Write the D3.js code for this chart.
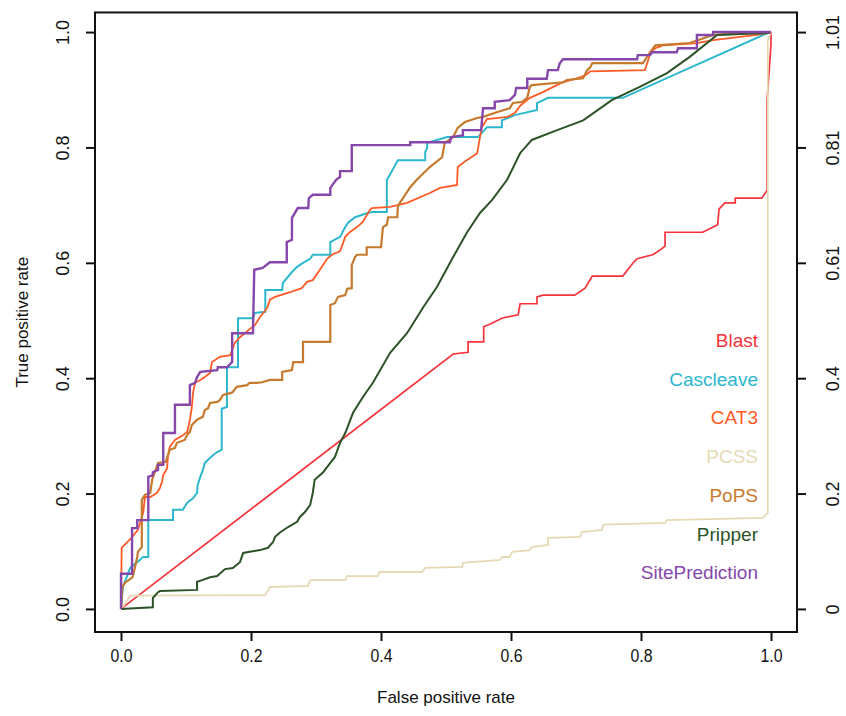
<!DOCTYPE html>
<html><head><meta charset="utf-8">
<script src="https://cdn.jsdelivr.net/npm/d3@7/dist/d3.min.js"></script>
<style>body{margin:0;background:#fff}svg{display:block}text{font-family:"Liberation Sans",Arial,sans-serif}</style>
</head><body><svg id="c" width="846" height="716"></svg>
<script>
const seriesNames = ["Blast","Cascleave","CAT3","PCSS","PoPS","Pripper","SitePrediction"];
const seriesColors = ["#F5333B","#2DB7CC","#FF5A26","#E6DAB4","#C67A2E","#2C5327","#8547AA"];
const xTicks = [0,0.2,0.4,0.6,0.8,1.0];
const xTickLabels = ["0.0","0.2","0.4","0.6","0.8","1.0"];
const yTicks = [0,0.2,0.4,0.6,0.8,1.0];
const yTickLabels = ["0.0","0.2","0.4","0.6","0.8","1.0"];
const rightTickLabels = ["0","0.2","0.4","0.61","0.81","1.01"];

const blast = [[0,0],[0.511,0.442],[0.534,0.445],[0.534,0.463],[0.558,0.463],[0.558,0.489],[0.568,0.494],[0.586,0.504],[0.611,0.510],[0.614,0.529],[0.640,0.529],[0.640,0.541],[0.649,0.544],[0.698,0.544],[0.714,0.556],[0.725,0.577],[0.772,0.577],[0.788,0.600],[0.794,0.607],[0.818,0.614],[0.829,0.622],[0.837,0.629],[0.837,0.653],[0.895,0.653],[0.911,0.662],[0.918,0.666],[0.920,0.693],[0.929,0.704],[0.945,0.704],[0.945,0.712],[0.986,0.712],[0.994,0.726],[0.994,0.882],[0.997,0.93],[1.0,0.98],[1,1]];

const cascleave = [[0,0],[0.003,0.038],[0.011,0.062],[0.014,0.071],[0.029,0.085],[0.034,0.090],[0.042,0.090],[0.042,0.154],[0.080,0.154],[0.080,0.172],[0.095,0.172],[0.102,0.184],[0.111,0.192],[0.117,0.201],[0.118,0.215],[0.122,0.229],[0.126,0.241],[0.129,0.253],[0.137,0.262],[0.142,0.267],[0.148,0.272],[0.155,0.276],[0.155,0.347],[0.163,0.350],[0.163,0.419],[0.180,0.419],[0.180,0.504],[0.203,0.504],[0.206,0.513],[0.222,0.515],[0.222,0.553],[0.248,0.553],[0.249,0.565],[0.263,0.584],[0.271,0.593],[0.280,0.600],[0.291,0.607],[0.295,0.614],[0.322,0.614],[0.322,0.636],[0.337,0.645],[0.345,0.662],[0.349,0.669],[0.360,0.679],[0.378,0.686],[0.386,0.688],[0.409,0.688],[0.409,0.743],[0.426,0.778],[0.468,0.778],[0.468,0.792],[0.471,0.799],[0.471,0.808],[0.502,0.818],[0.549,0.818],[0.563,0.835],[0.586,0.835],[0.586,0.847],[0.606,0.856],[0.640,0.865],[0.640,0.877],[0.657,0.886],[0.772,0.886],[0.998,1.0],[1,1]];

const cat3 = [[0,0],[0.001,0.106],[0.016,0.123],[0.026,0.137],[0.034,0.166],[0.037,0.194],[0.045,0.194],[0.055,0.201],[0.060,0.210],[0.063,0.220],[0.065,0.232],[0.071,0.244],[0.072,0.262],[0.075,0.281],[0.083,0.293],[0.094,0.300],[0.102,0.307],[0.106,0.328],[0.109,0.350],[0.111,0.376],[0.114,0.392],[0.122,0.397],[0.129,0.402],[0.137,0.409],[0.140,0.428],[0.152,0.437],[0.168,0.440],[0.175,0.461],[0.183,0.471],[0.198,0.485],[0.206,0.492],[0.214,0.506],[0.225,0.522],[0.229,0.536],[0.237,0.541],[0.260,0.549],[0.278,0.556],[0.286,0.567],[0.295,0.570],[0.306,0.588],[0.317,0.607],[0.326,0.615],[0.337,0.620],[0.345,0.645],[0.352,0.653],[0.363,0.662],[0.372,0.671],[0.383,0.692],[0.386,0.695],[0.414,0.697],[0.440,0.704],[0.475,0.721],[0.491,0.730],[0.517,0.735],[0.518,0.766],[0.532,0.778],[0.548,0.790],[0.552,0.816],[0.555,0.835],[0.563,0.849],[0.595,0.853],[0.606,0.860],[0.614,0.872],[0.629,0.886],[0.649,0.896],[0.665,0.905],[0.680,0.913],[0.702,0.920],[0.714,0.925],[0.722,0.932],[0.806,0.934],[0.811,0.951],[0.814,0.965],[0.822,0.972],[0.834,0.977],[0.886,0.981],[0.911,0.986],[0.978,0.995],[0.998,1.0],[1,1]];

const pcss = [[0,0],[0.005,0.007],[0.014,0.023],[0.222,0.024],[0.229,0.038],[0.288,0.040],[0.291,0.050],[0.345,0.050],[0.348,0.057],[0.395,0.057],[0.398,0.064],[0.463,0.064],[0.468,0.071],[0.525,0.073],[0.526,0.080],[0.583,0.085],[0.586,0.090],[0.598,0.090],[0.602,0.099],[0.629,0.102],[0.632,0.107],[0.657,0.111],[0.657,0.123],[0.706,0.125],[0.709,0.133],[0.740,0.137],[0.742,0.146],[0.837,0.149],[0.840,0.154],[0.988,0.158],[0.991,0.163],[0.995,0.166],[0.995,0.986],[1.0,1.0]];

const pops = [[0,0],[0.002,0.038],[0.006,0.045],[0.018,0.055],[0.025,0.090],[0.026,0.099],[0.032,0.107],[0.032,0.189],[0.037,0.198],[0.045,0.201],[0.048,0.224],[0.052,0.237],[0.057,0.253],[0.069,0.255],[0.071,0.263],[0.075,0.276],[0.083,0.279],[0.086,0.288],[0.098,0.293],[0.102,0.302],[0.106,0.307],[0.109,0.319],[0.117,0.328],[0.126,0.333],[0.129,0.345],[0.134,0.348],[0.137,0.357],[0.148,0.359],[0.152,0.362],[0.157,0.371],[0.168,0.374],[0.172,0.376],[0.178,0.385],[0.194,0.388],[0.198,0.392],[0.209,0.392],[0.217,0.393],[0.229,0.397],[0.248,0.397],[0.248,0.411],[0.263,0.414],[0.265,0.428],[0.280,0.428],[0.280,0.463],[0.322,0.463],[0.322,0.527],[0.329,0.530],[0.334,0.541],[0.345,0.544],[0.348,0.555],[0.355,0.556],[0.355,0.596],[0.360,0.610],[0.363,0.614],[0.378,0.614],[0.378,0.627],[0.400,0.627],[0.403,0.662],[0.409,0.666],[0.411,0.679],[0.425,0.679],[0.426,0.697],[0.429,0.704],[0.445,0.731],[0.455,0.744],[0.475,0.766],[0.494,0.783],[0.498,0.808],[0.511,0.818],[0.518,0.834],[0.529,0.844],[0.548,0.851],[0.557,0.853],[0.578,0.861],[0.598,0.868],[0.603,0.877],[0.617,0.879],[0.625,0.886],[0.629,0.905],[0.632,0.908],[0.680,0.913],[0.686,0.917],[0.711,0.920],[0.717,0.934],[0.722,0.939],[0.725,0.946],[0.803,0.946],[0.814,0.965],[0.822,0.977],[0.875,0.981],[0.911,0.995],[0.998,1.0],[1,1]];

const pripper = [[0,0],[0.049,0.003],[0.049,0.019],[0.057,0.029],[0.060,0.031],[0.117,0.033],[0.117,0.047],[0.125,0.050],[0.137,0.055],[0.148,0.057],[0.160,0.069],[0.172,0.071],[0.183,0.081],[0.188,0.097],[0.198,0.099],[0.214,0.102],[0.226,0.106],[0.234,0.116],[0.237,0.125],[0.245,0.133],[0.257,0.142],[0.271,0.151],[0.275,0.159],[0.283,0.168],[0.291,0.180],[0.295,0.201],[0.298,0.224],[0.311,0.237],[0.322,0.253],[0.329,0.263],[0.337,0.288],[0.345,0.305],[0.357,0.340],[0.372,0.367],[0.388,0.393],[0.414,0.444],[0.440,0.478],[0.465,0.523],[0.486,0.558],[0.511,0.610],[0.532,0.652],[0.552,0.686],[0.571,0.709],[0.594,0.744],[0.614,0.790],[0.632,0.813],[0.671,0.830],[0.711,0.847],[0.755,0.882],[0.798,0.905],[0.840,0.929],[0.875,0.957],[0.917,0.995],[0.963,0.997],[0.994,0.998],[1.0,1.0]];

const sitePrediction = [[0,0],[0,0.061],[0.017,0.061],[0.017,0.140],[0.025,0.140],[0.025,0.154],[0.042,0.154],[0.042,0.229],[0.049,0.232],[0.049,0.237],[0.057,0.241],[0.057,0.250],[0.065,0.250],[0.065,0.305],[0.083,0.305],[0.083,0.354],[0.106,0.354],[0.106,0.388],[0.114,0.392],[0.117,0.402],[0.122,0.411],[0.148,0.414],[0.149,0.419],[0.163,0.419],[0.171,0.428],[0.171,0.478],[0.203,0.478],[0.205,0.588],[0.218,0.591],[0.229,0.601],[0.255,0.601],[0.255,0.636],[0.263,0.640],[0.263,0.678],[0.272,0.695],[0.288,0.695],[0.289,0.712],[0.295,0.718],[0.322,0.718],[0.322,0.730],[0.331,0.744],[0.337,0.749],[0.337,0.759],[0.355,0.759],[0.355,0.804],[0.445,0.804],[0.445,0.809],[0.506,0.809],[0.508,0.818],[0.526,0.821],[0.526,0.830],[0.554,0.830],[0.557,0.868],[0.575,0.868],[0.575,0.879],[0.598,0.882],[0.606,0.891],[0.608,0.903],[0.625,0.903],[0.625,0.919],[0.655,0.919],[0.657,0.934],[0.672,0.934],[0.675,0.946],[0.680,0.953],[0.794,0.953],[0.795,0.960],[0.814,0.960],[0.817,0.965],[0.855,0.965],[0.857,0.972],[0.886,0.972],[0.886,0.995],[0.911,0.995],[0.911,1.0],[1.0,1.0]];

const seriesData = [blast, cascleave, cat3, pcss, pops, pripper, sitePrediction];
const seriesWidths = [1.7,2,1.8,1.8,2.2,2,2.4];

const svg = d3.select("#c");
const x = d3.scaleLinear().domain([-0.04,1.04]).range([95,797]);
const y = d3.scaleLinear().domain([-0.04,1.04]).range([632,9]);

const line = d3.line().x(d=>x(d[0])).y(d=>y(d[1]));
seriesData.forEach((s,i)=>{
  svg.append("path").attr("d",line(s)).attr("fill","none")
    .attr("stroke",seriesColors[i]).attr("stroke-width",seriesWidths[i])
    .attr("stroke-linejoin","miter");
});

// frame
const frameTop = y(1.034);
svg.append("rect").attr("x",x(-0.04)).attr("y",frameTop)
  .attr("width",x(1.04)-x(-0.04)).attr("height",y(-0.04)-frameTop)
  .attr("fill","none").attr("stroke","#111").attr("stroke-width",2);

// axes
const fs = 18;
const bottom = d3.axisBottom(x).tickValues(xTicks).tickFormat((d,i)=>xTickLabels[i]).tickSize(9).tickPadding(8);
const gb = svg.append("g").attr("transform",`translate(0,${y(-0.04)})`).call(bottom);
const left = d3.axisLeft(y).tickValues(yTicks).tickFormat((d,i)=>yTickLabels[i]).tickSize(9);
const gl = svg.append("g").attr("transform",`translate(${x(-0.04)},0)`).call(left);
const right = d3.axisRight(y).tickValues(yTicks).tickFormat((d,i)=>rightTickLabels[i]).tickSize(9);
const gr = svg.append("g").attr("transform",`translate(${x(1.04)},0)`).call(right);
[gb,gl,gr].forEach(g=>{
  g.select(".domain").remove();
  g.selectAll(".tick line").attr("stroke","#111").attr("stroke-width",2);
  g.selectAll(".tick text").attr("fill","#111").style("font-size",fs+"px");
});
gb.selectAll(".tick text").attr("transform","scale(0.88,1)").attr("x",0);
gl.selectAll(".tick text").attr("x",null).attr("dy",null)
  .attr("transform","translate(-26,0) rotate(-90)").attr("text-anchor","middle").attr("y",0);
gr.selectAll(".tick text").attr("x",null).attr("dy",null)
  .attr("transform","translate(42,0) rotate(-90)").attr("text-anchor","middle").attr("y",0);

// axis titles
svg.append("text").attr("x",(x(-0.04)+x(1.04))/2).attr("y",703).attr("text-anchor","middle")
  .style("font-size","17px").attr("fill","#111").text("False positive rate");
svg.append("text").attr("transform",`translate(28,${(y(-0.04)+frameTop)/2}) rotate(-90)`).attr("text-anchor","middle")
  .style("font-size","17px").attr("fill","#111").text("True positive rate");

// legend
const lg = d3.scaleBand().domain(seriesNames).range([321,592]);
seriesNames.forEach((n,i)=>{
  svg.append("text").attr("x",758).attr("y",lg(n)+lg.bandwidth()/2).attr("dy","0.35em")
    .attr("text-anchor","end").style("font-size","19px").attr("fill",seriesColors[i]).text(n);
});
</script></body></html>
